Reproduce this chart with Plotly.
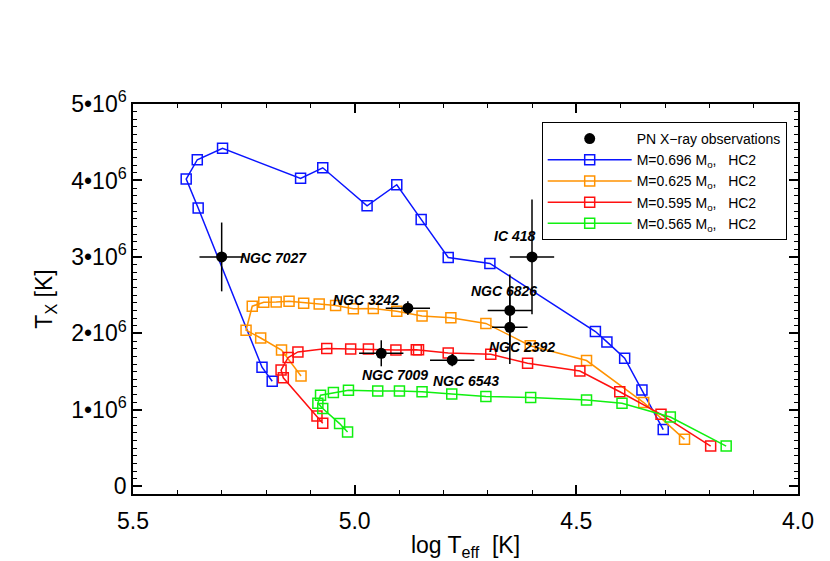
import plotly.graph_objects as go

# evolutionary tracks (log Teff, Tx)
m696_logt = [4.304, 4.352, 4.391, 4.431, 4.457, 4.695, 4.789, 4.850, 4.905, 4.972,
             5.072, 5.122, 5.298, 5.355, 5.380, 5.353, 5.209, 5.186]
m696_tx = [0.742, 1.26, 1.675, 1.889, 2.025, 2.915, 2.993, 3.491, 3.944, 3.669,
           4.166, 4.028, 4.42, 4.271, 4.018, 3.639, 1.558, 1.374]

m625_logt = [4.256, 4.348, 4.477, 4.604, 4.704, 4.783, 4.848, 4.905, 4.958, 5.003,
             5.043, 5.080, 5.115, 5.148, 5.177, 5.205, 5.231, 5.245, 5.212, 5.165, 5.121]
m625_tx = [0.615, 1.096, 1.645, 1.839, 2.131, 2.205, 2.229, 2.291, 2.326, 2.321,
           2.365, 2.385, 2.395, 2.421, 2.412, 2.408, 2.356, 2.042, 1.940, 1.783, 1.444]

m595_logt = [4.197, 4.309, 4.402, 4.492, 4.610, 4.693, 4.789, 4.856, 4.861, 4.907,
             4.969, 5.009, 5.063, 5.128, 5.150, 5.166, 5.161, 5.085, 5.072]
m595_tx = [0.527, 0.942, 1.237, 1.509, 1.610, 1.728, 1.745, 1.787, 1.787, 1.784,
           1.797, 1.797, 1.802, 1.758, 1.685, 1.521, 1.420, 0.920, 0.825]

m565_logt = [4.162, 4.288, 4.397, 4.477, 4.603, 4.704, 4.781, 4.848, 4.899, 4.948,
             5.014, 5.048, 5.077, 5.083, 5.072, 5.034, 5.016]
m565_tx = [0.527, 0.907, 1.086, 1.130, 1.161, 1.174, 1.208, 1.237, 1.247, 1.247,
           1.257, 1.226, 1.191, 1.086, 1.017, 0.821, 0.711]

# PN X-ray observations
pn_names = ["NGC 7027", "NGC 3242", "IC 418", "NGC 6826", "NGC 2392", "NGC 7009", "NGC 6543"]
pn_logt = [5.30, 4.88, 4.60, 4.65, 4.65, 4.94, 4.78]
pn_logt_err = [0.05, 0.05, 0.05, 0.05, 0.04, 0.05, 0.05]
pn_tx = [3.00, 2.33, 3.00, 2.30, 2.08, 1.74, 1.65]
pn_tx_err = [0.45, 0.09, 0.75, 0.47, 0.48, 0.17, 0.08]
# label anchor (left edge, middle) for each name
label_logt = [5.264, 5.053, 4.690, 4.742, 4.701, 4.989, 4.828]
label_tx = [2.98, 2.44, 3.27, 2.56, 1.82, 1.45, 1.375]

y_ticks = [0, 1, 2, 3, 4, 5]
y_ticktext = ["0"] + [f"{v}\u202210<sup>6</sup>" for v in y_ticks[1:]]

FONT = "Liberation Sans, Arial, sans-serif"

tracks = [
    ("0.696", m696_logt, m696_tx, "#0a14ff"),
    ("0.625", m625_logt, m625_tx, "#ff9200"),
    ("0.595", m595_logt, m595_tx, "#ff1010"),
    ("0.565", m565_logt, m565_tx, "#10f010"),
]

fig = go.Figure()

for mass, logt, tx, color in tracks:
    fig.add_trace(go.Scatter(
        x=logt,
        y=[v * 1e6 for v in tx],
        mode="lines+markers",
        name=f"M={mass} M<sub>o</sub>,   HC2",
        line=dict(color=color, width=1.5),
        marker=dict(symbol="square-open", size=10, color=color, line=dict(width=1.5)),
    ))

fig.add_trace(go.Scatter(
    x=pn_logt,
    y=[v * 1e6 for v in pn_tx],
    mode="markers",
    name="PN X\u2212ray observations",
    legendrank=1,
    marker=dict(symbol="circle", size=11, color="black"),
    error_x=dict(type="data", array=pn_logt_err, color="black", thickness=1.5, width=0),
    error_y=dict(type="data", array=[v * 1e6 for v in pn_tx_err], color="black",
                 thickness=1.5, width=0),
))

for name, lx, ly in zip(pn_names, label_logt, label_tx):
    fig.add_annotation(
        x=lx, y=ly * 1e6, text=f"<b><i>{name}</i></b>",
        xanchor="left", yanchor="middle", showarrow=False,
        font=dict(family=FONT, size=14, color="black"),
    )

axis_common = dict(
    showline=True, linecolor="black", linewidth=1.5, mirror="ticks",
    ticks="inside", ticklen=9, tickwidth=1.5, tickcolor="black",
    showgrid=False, zeroline=False, automargin=False,
    tickfont=dict(family=FONT, size=23, color="black"),
    title_font=dict(family=FONT, size=23, color="black"),
)

fig.update_xaxes(
    range=[5.5, 4.0],
    tickvals=[5.5, 5.0, 4.5, 4.0],
    ticktext=["5.5", "5.0", "4.5", "4.0"],
    minor=dict(ticks="inside", ticklen=4, dtick=0.1, tickcolor="black", tickwidth=1.2),
    title_text="log T<sub>eff</sub>  [K]",
    title_standoff=6,
    ticklabelstandoff=6,
    **axis_common,
)
fig.update_yaxes(
    range=[-0.1e6, 5e6],
    tickvals=[v * 1e6 for v in y_ticks],
    ticktext=y_ticktext,
    minor=dict(ticks="inside", ticklen=4, dtick=1e5, tickcolor="black", tickwidth=1.2),
    title_text="T<sub>X</sub> [K]",
    title_standoff=12,
    **axis_common,
)

fig.update_layout(
    width=830,
    height=561,
    margin=dict(l=133, r=32, t=104, b=67),
    plot_bgcolor="white",
    paper_bgcolor="white",
    font=dict(family=FONT, color="black"),
    legend=dict(
        x=0.983, y=0.954, xanchor="right", yanchor="top",
        bordercolor="black", borderwidth=1, bgcolor="white",
        font=dict(family=FONT, size=14, color="black"),
        itemwidth=84, tracegroupgap=0,
    ),
)

# drop the page's default body margin so the figure sits at the window's corner
fig.write_html(
    "out.html",
    config={"displayModeBar": False},
    post_script="document.body.style.margin = '0';",
)
